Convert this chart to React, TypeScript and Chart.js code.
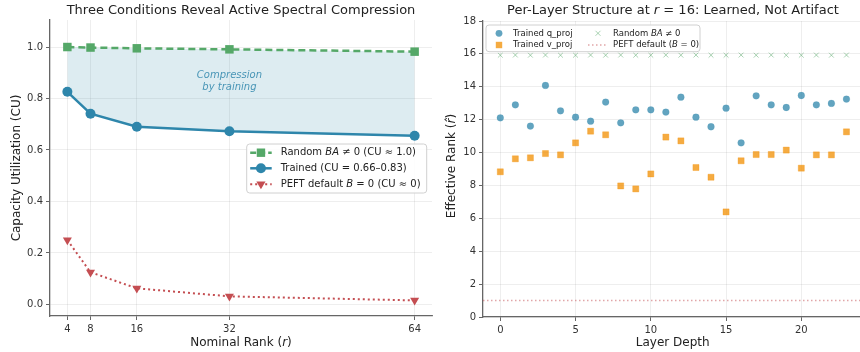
import React, { useEffect, useRef } from 'react';
import { Chart, registerables } from 'chart.js';

Chart.register(...registerables);

// ---------- Left panel data ----------
const RANKS = [4, 8, 16, 32, 64];
const RANDOM_CU = [1.0, 0.998, 0.995, 0.991, 0.982];
const TRAINED_CU = [0.826, 0.741, 0.69, 0.673, 0.655];
const PEFT_CU = [0.25, 0.125, 0.0625, 0.03125, 0.015625];
const CU_TICKS = [0, 0.2, 0.4, 0.6, 0.8, 1.0];
const ANNOT_X = 32;
const ANNOT_Y = 0.867;

// ---------- Right panel data ----------
const LAYERS = [0, 1, 2, 3, 4, 5, 6, 7, 8, 9, 10, 11, 12, 13, 14, 15, 16, 17, 18, 19, 20, 21, 22, 23];
const Q_PROJ = [12.11, 12.9, 11.61, 14.08, 12.54, 12.15, 11.91, 13.07, 11.81, 12.6, 12.6, 12.46, 13.37, 12.15, 11.57, 12.7, 10.59, 13.45, 12.9, 12.74, 13.47, 12.9, 12.99, 13.25];
const V_PROJ = [8.83, 9.62, 9.68, 9.94, 9.86, 10.59, 11.3, 11.08, 7.97, 7.79, 8.7, 10.94, 10.71, 9.09, 8.5, 6.39, 9.5, 9.88, 9.88, 10.15, 9.05, 9.86, 9.86, 11.26];
const RANDOM_RANK = [15.92, 15.93, 15.92, 15.93, 15.92, 15.92, 15.93, 15.92, 15.93, 15.92, 15.92, 15.93, 15.92, 15.93, 15.92, 15.92, 15.93, 15.92, 15.93, 15.92, 15.92, 15.93, 15.92, 15.93];
const PEFT_RANK = 1.0;
const LAYER_TICKS = [0, 5, 10, 15, 20];
const RANK_TICKS = [0, 2, 4, 6, 8, 10, 12, 14, 16, 18];

// ---------- Texts ----------
type Seg = { t: string; i?: boolean };
const LEFT_TITLE: Seg[] = [{ t: 'Three Conditions Reveal Active Spectral Compression' }];
const LEFT_XLABEL: Seg[] = [{ t: 'Nominal Rank (' }, { t: 'r', i: true }, { t: ')' }];
const LEFT_YLABEL: Seg[] = [{ t: 'Capacity Utilization (CU)' }];
const LEFT_LEGEND: Seg[][] = [
  [{ t: 'Random ' }, { t: 'BA', i: true }, { t: ' \u2260 0 (CU \u2248 1.0)' }],
  [{ t: 'Trained (CU = 0.66\u20130.83)' }],
  [{ t: 'PEFT default ' }, { t: 'B', i: true }, { t: ' = 0 (CU \u2248 0)' }],
];
const ANNOT_LINES = ['Compression', 'by training'];

const RIGHT_TITLE: Seg[] = [
  { t: 'Per-Layer Structure at ' },
  { t: 'r', i: true },
  { t: ' = 16: Learned, Not Artifact' },
];
const RIGHT_XLABEL: Seg[] = [{ t: 'Layer Depth' }];
const RIGHT_YLABEL: Seg[] = [{ t: 'Effective Rank (' }, { t: 'r\u0302', i: true }, { t: ')' }];
const RIGHT_LEGEND: Seg[][] = [
  [{ t: 'Trained q_proj' }],
  [{ t: 'Trained v_proj' }],
  [{ t: 'Random ' }, { t: 'BA', i: true }, { t: ' \u2260 0' }],
  [{ t: 'PEFT default (' }, { t: 'B', i: true }, { t: ' = 0)' }],
];

// ---------- Styles ----------
const FONT = '"DejaVu Sans", sans-serif';
const GREEN = '#55A868';
const BLUE = '#2E86AB';
const RED = '#C44E52';
const SPINE = '#666666';
const GRID = 'rgba(0,0,0,0.085)';
const TEXT = '#222222';

function drawRich(
  ctx: CanvasRenderingContext2D,
  segs: Seg[],
  x: number,
  y: number,
  size: number,
  color: string,
  align: 'left' | 'center'
) {
  const font = (it?: boolean) => `${it ? 'italic ' : ''}${size}px ${FONT}`;
  let total = 0;
  for (const s of segs) {
    ctx.font = font(s.i);
    total += ctx.measureText(s.t).width;
  }
  let cx = align === 'center' ? x - total / 2 : x;
  ctx.textBaseline = 'middle';
  ctx.textAlign = 'left';
  ctx.fillStyle = color;
  for (const s of segs) {
    ctx.font = font(s.i);
    ctx.fillText(s.t, cx, y);
    cx += ctx.measureText(s.t).width;
  }
}

function drawRotated(ctx: CanvasRenderingContext2D, segs: Seg[], x: number, y: number, size: number, color: string) {
  ctx.save();
  ctx.translate(x, y);
  ctx.rotate(-Math.PI / 2);
  drawRich(ctx, segs, 0, 0, size, color, 'center');
  ctx.restore();
}

function roundRect(ctx: CanvasRenderingContext2D, x: number, y: number, w: number, h: number, r: number) {
  ctx.beginPath();
  ctx.moveTo(x + r, y);
  ctx.lineTo(x + w - r, y);
  ctx.quadraticCurveTo(x + w, y, x + w, y + r);
  ctx.lineTo(x + w, y + h - r);
  ctx.quadraticCurveTo(x + w, y + h, x + w - r, y + h);
  ctx.lineTo(x + r, y + h);
  ctx.quadraticCurveTo(x, y + h, x, y + h - r);
  ctx.lineTo(x, y + r);
  ctx.quadraticCurveTo(x, y, x + r, y);
  ctx.closePath();
}

function marker(ctx: CanvasRenderingContext2D, kind: string, x: number, y: number, s: number, fill: string, stroke?: string, lw = 1) {
  ctx.save();
  ctx.setLineDash([]);
  ctx.fillStyle = fill;
  ctx.strokeStyle = stroke || fill;
  ctx.lineWidth = lw;
  ctx.beginPath();
  if (kind === 'rect') {
    ctx.rect(x - s, y - s, 2 * s, 2 * s);
    ctx.fill();
  } else if (kind === 'circle') {
    ctx.arc(x, y, s, 0, Math.PI * 2);
    ctx.fill();
  } else if (kind === 'tri') {
    ctx.moveTo(x - s, y - s * 0.6);
    ctx.lineTo(x + s, y - s * 0.6);
    ctx.lineTo(x, y + s * 1.1);
    ctx.closePath();
    ctx.fill();
  } else if (kind === 'x') {
    ctx.moveTo(x - s, y - s);
    ctx.lineTo(x + s, y + s);
    ctx.moveTo(x + s, y - s);
    ctx.lineTo(x - s, y + s);
    ctx.stroke();
  }
  ctx.restore();
}

function hline(ctx: CanvasRenderingContext2D, x1: number, x2: number, y: number, color: string, w: number, dash: number[]) {
  ctx.save();
  ctx.strokeStyle = color;
  ctx.lineWidth = w;
  ctx.setLineDash(dash);
  ctx.beginPath();
  ctx.moveTo(x1, y);
  ctx.lineTo(x2, y);
  ctx.stroke();
  ctx.restore();
}

// Pins the plot area to exact canvas pixels after Chart.js has laid out its boxes.
function pinArea(box: { left: number; right: number; top: number; bottom: number }) {
  return {
    id: 'pinArea',
    afterLayout(chart: any) {
      const a = chart.chartArea;
      a.left = box.left;
      a.right = box.right;
      a.top = box.top;
      a.bottom = box.bottom;
      a.width = box.right - box.left;
      a.height = box.bottom - box.top;
      const xs = chart.scales.x;
      const ys = chart.scales.y;
      xs.left = box.left;
      xs.right = box.right;
      xs.width = box.right - box.left;
      xs.top = box.bottom;
      xs.configure();
      ys.top = box.top;
      ys.bottom = box.bottom;
      ys.height = box.bottom - box.top;
      ys.right = box.left;
      ys.configure();
    },
  };
}

function axisCommon(min: number, max: number, tickVals: number[], fmt: (v: number) => string, fit: (s: any) => void) {
  return {
    type: 'linear' as const,
    min,
    max,
    afterBuildTicks: (scale: any) => {
      scale.ticks = tickVals.map((v) => ({ value: v }));
    },
    afterFit: (s: any) => {
      fit(s);
      s.paddingLeft = 0;
      s.paddingRight = 0;
      s.paddingTop = 0;
      s.paddingBottom = 0;
    },
    ticks: {
      includeBounds: false,
      autoSkip: false,
      maxRotation: 0,
      padding: 3,
      color: '#333333',
      font: { family: FONT, size: 10 },
      callback: (v: any) => fmt(Number(v)),
    },
    grid: {
      color: GRID,
      lineWidth: 0.8,
      drawTicks: true,
      tickLength: 4,
      tickColor: SPINE,
      tickWidth: 1,
    },
    border: { display: true, color: SPINE, width: 1.3 },
  };
}

function LeftChart() {
  const ref = useRef<HTMLCanvasElement | null>(null);
  useEffect(() => {
    if (!ref.current) return;
    const decor = {
      id: 'leftDecor',
      afterDraw(chart: any) {
        const ctx = chart.ctx as CanvasRenderingContext2D;
        const a = chart.chartArea;
        const xs = chart.scales.x;
        const ys = chart.scales.y;
        const cx = (a.left + a.right) / 2;
        drawRich(ctx, LEFT_TITLE, cx, 11, 13, TEXT, 'center');
        drawRich(ctx, LEFT_XLABEL, cx, 343, 12, TEXT, 'center');
        drawRotated(ctx, LEFT_YLABEL, 17, (a.top + a.bottom) / 2, 12, TEXT);
        // annotation
        const ax = xs.getPixelForValue(ANNOT_X);
        const ay = ys.getPixelForValue(ANNOT_Y);
        ctx.save();
        ctx.font = `italic 10px ${FONT}`;
        ctx.fillStyle = 'rgba(46,134,171,0.85)';
        ctx.textAlign = 'center';
        ctx.textBaseline = 'middle';
        ctx.fillText(ANNOT_LINES[0], ax, ay - 6.2);
        ctx.fillText(ANNOT_LINES[1], ax, ay + 6.2);
        ctx.restore();
        // legend
        const lx = a.right - 185.3;
        const ly = 144;
        ctx.save();
        roundRect(ctx, lx, ly, 180, 49, 3);
        ctx.fillStyle = 'rgba(255,255,255,0.85)';
        ctx.fill();
        ctx.strokeStyle = '#d0d0d0';
        ctx.lineWidth = 1;
        ctx.stroke();
        ctx.restore();
        const rows = [ly + 8.7, ly + 24.3, ly + 40.3];
        const h1 = lx + 3.5;
        const h2 = lx + 25;
        const hm = (h1 + h2) / 2;
        const tx = lx + 34;
        hline(ctx, h1, h2, rows[0], GREEN, 2.5, [6, 3]);
        marker(ctx, 'rect', hm, rows[0], 4.2, GREEN);
        hline(ctx, h1, h2, rows[1], BLUE, 2.5, []);
        marker(ctx, 'circle', hm, rows[1], 5, BLUE);
        hline(ctx, h1, h2, rows[2], RED, 2, [2, 3]);
        marker(ctx, 'tri', hm, rows[2], 4.6, RED);
        LEFT_LEGEND.forEach((segs, i) => drawRich(ctx, segs, tx, rows[i], 10, TEXT, 'left'));
      },
    };
    const chart = new Chart(ref.current, {
      type: 'line',
      data: {
        datasets: [
          {
            label: 'Random BA ≠ 0 (CU ≈ 1.0)',
            data: RANKS.map((r, i) => ({ x: r, y: RANDOM_CU[i] })),
            borderColor: GREEN,
            backgroundColor: GREEN,
            borderWidth: 2.5,
            borderDash: [7, 4],
            pointStyle: 'rect',
            pointRadius: 6,
            pointBorderWidth: 0,
            tension: 0,
            fill: false,
          },
          {
            label: 'Trained (CU = 0.66–0.83)',
            data: RANKS.map((r, i) => ({ x: r, y: TRAINED_CU[i] })),
            borderColor: BLUE,
            backgroundColor: 'rgba(46,134,171,0.16)',
            pointBackgroundColor: BLUE,
            borderWidth: 2.5,
            pointStyle: 'circle',
            pointRadius: 5,
            pointBorderWidth: 0,
            tension: 0,
            fill: { target: 0 },
          },
          {
            label: 'PEFT default B = 0 (CU ≈ 0)',
            data: RANKS.map((r, i) => ({ x: r, y: PEFT_CU[i] })),
            borderColor: RED,
            backgroundColor: RED,
            borderWidth: 2,
            borderDash: [2, 3],
            pointStyle: 'triangle',
            rotation: 180,
            pointRadius: 5.2,
            pointBorderWidth: 0,
            tension: 0,
            fill: false,
          },
        ],
      },
      options: {
        animation: false,
        responsive: false,
        devicePixelRatio: 1,
        layout: { padding: { left: 0, right: 3, top: 20, bottom: 0 } },
        plugins: {
          legend: { display: false },
          title: { display: false },
          tooltip: { enabled: false },
          filler: { drawTime: 'beforeDatasetsDraw' },
        },
        scales: {
          x: axisCommon(1, 67, RANKS, (v) => String(v), (s: any) => { s.height = 36; }),
          y: axisCommon(-0.045, 1.105, CU_TICKS, (v) => v.toFixed(1), (s: any) => { s.width = 50; }),
        },
      },
      plugins: [pinArea({ left: 50, right: 432, top: 20, bottom: 316 }), decor],
    } as any);
    return () => chart.destroy();
  }, []);
  return <canvas ref={ref} width={435} height={352} style={{ position: 'absolute', left: 0, top: 0, width: 435, height: 352 }} />;
}

function RightChart() {
  const ref = useRef<HTMLCanvasElement | null>(null);
  useEffect(() => {
    if (!ref.current) return;
    const decor = {
      id: 'rightDecor',
      beforeDatasetsDraw(chart: any) {
        const ctx = chart.ctx as CanvasRenderingContext2D;
        const a = chart.chartArea;
        const y = chart.scales.y.getPixelForValue(PEFT_RANK);
        hline(ctx, a.left, a.right, y, 'rgba(196,78,82,0.5)', 1.5, [1.5, 2.5]);
      },
      afterDraw(chart: any) {
        const ctx = chart.ctx as CanvasRenderingContext2D;
        const a = chart.chartArea;
        drawRich(ctx, RIGHT_TITLE, 238, 11, 13, TEXT, 'center');
        drawRich(ctx, RIGHT_XLABEL, 237.7, 343, 12, TEXT, 'center');
        drawRotated(ctx, RIGHT_YLABEL, 17, 166, 12, TEXT);
        // legend
        const lx = a.left + 3;
        const ly = 25;
        ctx.save();
        roundRect(ctx, lx, ly, 214, 26.7, 3);
        ctx.fillStyle = 'rgba(255,255,255,0.85)';
        ctx.fill();
        ctx.strokeStyle = '#d0d0d0';
        ctx.lineWidth = 1;
        ctx.stroke();
        ctx.restore();
        const r1 = ly + 8.3;
        const r2 = ly + 20;
        marker(ctx, 'circle', lx + 13, r1, 3.4, 'rgba(46,134,171,0.75)');
        marker(ctx, 'rect', lx + 13, r2, 3.2, 'rgba(241,143,1,0.75)');
        marker(ctx, 'x', lx + 112, r1, 2.5, 'rgba(85,168,104,0.5)', undefined, 1);
        hline(ctx, lx + 102, lx + 122, r2, 'rgba(196,78,82,0.5)', 1.5, [1.5, 2.5]);
        drawRich(ctx, RIGHT_LEGEND[0], lx + 27, r1, 8.5, TEXT, 'left');
        drawRich(ctx, RIGHT_LEGEND[1], lx + 27, r2, 8.5, TEXT, 'left');
        drawRich(ctx, RIGHT_LEGEND[2], lx + 127, r1, 8.5, TEXT, 'left');
        drawRich(ctx, RIGHT_LEGEND[3], lx + 127, r2, 8.5, TEXT, 'left');
      },
    };
    const chart = new Chart(ref.current, {
      type: 'scatter',
      data: {
        datasets: [
          {
            label: 'Trained q_proj',
            data: LAYERS.map((l, i) => ({ x: l, y: Q_PROJ[i] })),
            backgroundColor: 'rgba(46,134,171,0.75)',
            borderColor: 'rgba(46,134,171,0.3)',
            borderWidth: 0.5,
            pointStyle: 'circle',
            pointRadius: 3.4,
          },
          {
            label: 'Trained v_proj',
            data: LAYERS.map((l, i) => ({ x: l, y: V_PROJ[i] })),
            backgroundColor: 'rgba(241,143,1,0.75)',
            borderColor: 'rgba(241,143,1,0.3)',
            borderWidth: 1,
            pointStyle: 'rect',
            pointRadius: 4.3,
          },
          {
            label: 'Random BA ≠ 0',
            data: LAYERS.map((l, i) => ({ x: l, y: RANDOM_RANK[i] })),
            backgroundColor: 'rgba(85,168,104,0.5)',
            borderColor: 'rgba(85,168,104,0.5)',
            borderWidth: 1,
            pointStyle: 'crossRot',
            pointRadius: 3.4,
          },
        ],
      },
      options: {
        animation: false,
        responsive: false,
        devicePixelRatio: 1,
        layout: { padding: { left: 0, right: 0, top: 21, bottom: 0 } },
        plugins: {
          legend: { display: false },
          title: { display: false },
          tooltip: { enabled: false },
        },
        scales: {
          x: axisCommon(-1.15, 23.9, LAYER_TICKS, (v) => String(v), (s: any) => { s.height = 35; }),
          y: axisCommon(0, 18, RANK_TICKS, (v) => String(v), (s: any) => { s.width = 48; }),
        },
      },
      plugins: [pinArea({ left: 48, right: 425, top: 21, bottom: 317 }), decor],
    } as any);
    return () => chart.destroy();
  }, []);
  return <canvas ref={ref} width={425} height={352} style={{ position: 'absolute', left: 435, top: 0, width: 425, height: 352 }} />;
}

export default function App() {
  return (
    <div style={{ position: 'fixed', left: 0, top: 0, width: 860, height: 352, background: '#ffffff', overflow: 'hidden' }}>
      <LeftChart />
      <RightChart />
    </div>
  );
}
